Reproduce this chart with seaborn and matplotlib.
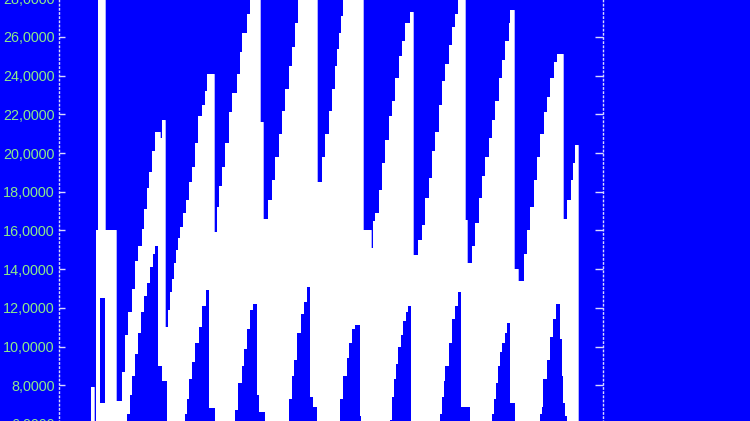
import matplotlib
matplotlib.use("Agg")
import matplotlib.pyplot as plt
from matplotlib.ticker import MultipleLocator, FuncFormatter
import seaborn as sns

# upper edge of the white trace: position where each step starts, level of the step
upper_t = [91, 93.5, 95.5, 97.5, 105, 116,
           121.5, 125, 128, 131.5, 135, 138, 141.5, 143.5, 146.5, 148.5, 151.5, 155, 160, 161.5,
           165, 168, 170, 172, 174, 176, 178, 180, 183, 186, 189, 192, 195, 198, 202, 205, 207,
           213.5, 216.5, 218.5, 221.5, 225, 228.5, 232, 236.5, 240, 242, 246.5, 250,
           260, 263, 268, 271.5, 275, 278.5, 281.5, 285, 288.5, 291.5, 295, 298,
           317, 321.5, 325, 328.5, 331.5, 335, 337, 339, 341, 343,
           363, 371, 373, 375, 378.5, 381.5, 385, 388.5, 391.5, 395, 398.5, 401.5, 405, 410,
           413, 418, 421.5, 425, 428.5, 431.5, 435, 438.5, 441.5, 445, 448.5, 451.5, 455, 458,
           465, 466.5, 471.5, 475, 478.5, 481.5, 485, 488.5, 491.5, 495, 498.5, 501.5, 505, 508.5, 510,
           514, 518, 523.5, 527, 530, 533.5, 537, 540, 543.5, 547, 550, 553.5, 557,
           563, 567, 570.5, 573, 575, 578]
upper_v = [7.9, 0, 16.0, 30.0, 16.0, 7.2,
           8.7, 10.6, 11.8, 13.0, 14.4, 15.2, 16.1, 17.1, 18.2, 19.0, 20.1, 21.1, 20.8, 21.7,
           11.0, 11.9, 12.8, 13.5, 14.3, 15.0, 15.6, 16.2, 16.9, 17.6, 18.5, 19.3, 20.5, 21.9, 22.5, 23.2, 24.1,
           15.9, 17.2, 18.3, 19.3, 20.5, 22.1, 23.1, 24.1, 25.2, 26.2, 27.2, 28.6,
           21.6, 16.6, 17.6, 18.6, 19.8, 21.0, 22.2, 23.3, 24.5, 25.5, 26.7, 28.8,
           18.5, 19.8, 21.0, 22.2, 23.3, 24.5, 25.4, 26.2, 27.1, 28.5,
           16.0, 15.1, 16.5, 16.9, 18.1, 19.5, 20.7, 21.9, 22.7, 23.9, 25.0, 25.8, 26.7, 27.3,
           14.75, 15.5, 16.3, 17.7, 18.7, 20.1, 21.1, 22.5, 23.7, 24.6, 25.6, 26.5, 27.2, 28.3,
           16.55, 14.3, 15.2, 16.4, 17.7, 18.8, 19.8, 20.8, 21.7, 22.7, 23.9, 24.8, 25.8, 26.7, 27.4,
           14.0, 13.4, 14.8, 16.0, 17.2, 18.6, 19.8, 21.0, 22.1, 22.9, 23.9, 24.7, 25.1,
           16.6, 17.6, 18.6, 19.5, 20.4, 0]

# lower edge of the white trace (the blue teeth rising from the bottom)
lower_t = [60, 127, 129.5, 132, 135, 138, 141, 144, 147, 150, 153, 155, 157.5, 162, 167,
           185, 186.5, 188.5, 192, 195, 198.5, 202, 205.5, 209, 215,
           235, 238, 241.5, 243.5, 246.5, 250, 253, 257, 259, 265,
           288.5, 291.5, 294, 297, 300.5, 304, 307, 310, 313, 317,
           340, 343, 346.5, 349, 352, 355, 359.5, 361,
           390, 392, 394, 396, 398, 401, 403, 406, 408, 411,
           440, 441.5, 443.5, 445, 448.5, 451.5, 455, 458, 461, 470,
           492, 494, 496, 498, 500, 502, 505, 507, 510, 515,
           540, 541.5, 543, 546.5, 550, 553, 556, 560, 561.5, 563, 565, 567, 578]
lower_v = [0, 6.5, 7.5, 8.5, 9.6, 10.7, 11.8, 12.6, 13.3, 14.1, 14.8, 15.2, 9.0, 8.2, 0,
           6.5, 7.3, 8.3, 9.2, 10.2, 11.0, 12.1, 12.9, 6.8, 0,
           6.7, 8.1, 9.0, 9.9, 10.9, 11.9, 12.2, 7.5, 6.6, 0,
           7.3, 8.5, 9.3, 10.7, 11.7, 12.3, 13.1, 7.4, 6.9, 0,
           7.3, 8.5, 9.4, 10.2, 10.9, 11.1, 6.4, 0,
           6.2, 7.4, 8.3, 9.1, 10.0, 10.6, 11.3, 11.8, 12.1, 0,
           6.5, 7.4, 8.2, 9.0, 10.2, 11.4, 12.1, 12.8, 6.9, 0,
           6.5, 7.3, 8.1, 9.0, 9.7, 10.2, 10.7, 11.2, 7.1, 0,
           6.5, 6.9, 8.3, 9.3, 10.5, 11.4, 12.2, 10.4, 8.5, 7.1, 6.4, 0, 0]

# small gap inside the first spike
gap_t = [100, 105]
gap_lo = [7.1, 7.1]
gap_hi = [12.5, 12.5]

BLUE = "#0000ff"
sns.set_theme(style="dark", rc={"axes.facecolor": BLUE, "figure.facecolor": BLUE,
                                "savefig.facecolor": BLUE})
plt.rcParams["font.family"] = ["Liberation Sans", "DejaVu Sans"]

fig = plt.figure(figsize=(7.5, 4.21), dpi=100)
ax = fig.add_axes([59 / 750, -0.099, 544 / 750, 1.195])

ax.fill_between(upper_t, 0, upper_v, step="post", color="white", lw=0)
sns.lineplot(x=upper_t, y=upper_v, drawstyle="steps-post", color="white", lw=0.5,
             ax=ax, legend=False)
ax.fill_between(lower_t, 0, lower_v, step="post", color=BLUE, lw=0, zorder=3)
ax.fill_between(gap_t, gap_lo, gap_hi, step="post", color=BLUE, lw=0, zorder=3)

ax.set_xlim(59, 603)
ax.set_ylim(4, 30)
ax.set_xticks([])
ax.yaxis.set_major_locator(MultipleLocator(2))
ax.yaxis.set_major_formatter(FuncFormatter(lambda v, p: f"{v:.4f}".replace(".", ",")))
ax.tick_params(axis="y", direction="in", length=4, width=1, color="#d8d8ff",
               labelcolor="#8ce88c", labelsize=10.4, pad=3,
               left=True, right=True, labelleft=True, labelright=False)
for tk in ax.yaxis.get_major_ticks():
    tk.tick2line.set_markersize(6)

ax.grid(False)
for side in ["top", "bottom"]:
    ax.spines[side].set_visible(False)
for side in ["left", "right"]:
    ax.spines[side].set_visible(True)
    ax.spines[side].set_color("#d8d8ff")
    ax.spines[side].set_linewidth(1)
    ax.spines[side].set_linestyle((0, (1, 2)))
    ax.spines[side].set_zorder(5)

fig.savefig("out.png", dpi=100, facecolor=BLUE)
